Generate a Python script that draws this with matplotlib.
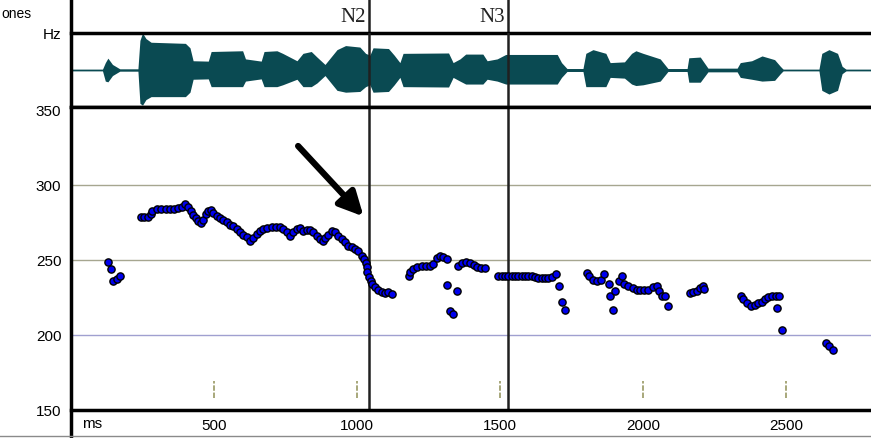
import matplotlib.pyplot as plt
from matplotlib.lines import Line2D

# pitch track (ms, Hz)
pitch_ms = [130, 139, 148, 160, 171,
            245, 256, 268, 280, 284, 300, 315, 331, 346, 361, 373, 387, 399, 408, 420,
            428, 436, 445, 455, 463, 471, 480, 490, 498, 509, 521, 533, 544, 556, 568,
            579, 591, 603, 614, 626, 638, 649,
            661, 673, 687, 702, 717, 731, 742, 754, 766, 777, 789, 801, 812, 824, 836,
            847, 859, 871, 880, 888, 900, 911, 923, 935, 946, 958, 970, 981, 993, 1005,
            1016, 1024, 1031, 1034, 1036, 1043, 1048, 1054, 1063, 1075, 1086, 1098, 1110, 1121,
            1180, 1185, 1197, 1211, 1226, 1241, 1255, 1267, 1279, 1290, 1302, 1314,
            1314, 1325, 1337, 1349,
            1354, 1366, 1381, 1395, 1409, 1421, 1432, 1448,
            1494, 1506, 1517, 1529, 1541, 1552, 1564, 1576, 1587, 1599, 1611, 1622, 1634,
            1646, 1657, 1669, 1681, 1696, 1707, 1716, 1727,
            1803, 1812, 1824, 1838, 1852, 1864, 1880, 1885, 1896, 1903, 1917, 1925, 1934,
            1949, 1964, 1978, 1990, 2003, 2019, 2036, 2050, 2057, 2065, 2077, 2088,
            2164, 2176, 2188, 2199, 2209, 2213,
            2342, 2351, 2362, 2376, 2392, 2403, 2415, 2427, 2438, 2450, 2465, 2477, 2467, 2486,
            2640, 2651, 2665]
pitch_hz = [248.5, 244, 236, 237, 239.5,
            278.9, 278.4, 278.9, 280.7, 282.4, 284, 284, 284, 284, 284, 284.7, 285.6, 287.3, 285.1, 282.9,
            280.2, 278, 275.8, 274.9, 276.7, 280.7, 282.9, 283.3, 281.1, 279.6, 278, 276.7, 275.1, 273.5, 272.9,
            270.7, 268.4, 266.9, 265.1, 262.4, 264.7, 267.3,
            269.5, 270.7, 271.3, 271.8, 271.8, 271.8, 270.7, 268.4, 266.2, 268.4, 270.7, 271.3, 269.5, 269.9, 269.9,
            268.4, 266.2, 264, 262.4, 264.7, 266.9, 269.1, 268.4, 266.2, 264, 261.8, 259.6, 258.4, 257.3, 255.8,
            252.9, 250.7, 247.8, 245.1, 241.8, 238.4, 236.2, 234, 231.8, 230, 228.4, 227.8, 228.4, 227.3,
            239.6, 242.2, 244, 245.6, 245.8, 245.8, 245.8, 247.3, 251.1, 252.4, 251.8, 250.7,
            233.3, 216.2, 214, 229.6,
            245.8, 248, 248.4, 248, 246.7, 245.1, 244.4, 244.4,
            239.6, 239.6, 239.6, 239.6, 239.6, 239.6, 239.6, 239.6, 239.6, 239.6, 239.6, 238.4, 237.8,
            237.8, 237.8, 237.8, 238.4, 240.7, 232.9, 222.2, 216.9,
            241.3, 239.1, 236.9, 236.2, 236.9, 240.7, 234.2, 225.8, 216.9, 229.3, 236, 239.6, 234,
            232.4, 231.1, 230.2, 230.2, 230.2, 230.2, 231.8, 232.9, 229.6, 226.2, 225.8, 219.1,
            228, 228.4, 229.6, 231.1, 232.9, 230.7,
            225.8, 224, 221.3, 219.1, 220, 221.3, 222.2, 224, 225.1, 225.8, 225.8, 225.8, 217.8, 203.3,
            194.7, 192.9, 189.8]

# waveform envelope (ms, relative amplitude)
wave_ms = [0, 110, 120, 129, 145, 171, 234, 241, 250, 262, 280, 400, 416, 427, 480, 490, 600, 610,
           665, 675, 720, 740, 790, 811, 840, 860, 888, 930, 960, 1010, 1030, 1045, 1056, 1110,
           1130, 1150, 1161, 1320, 1336, 1360, 1380, 1440, 1455, 1490, 1520, 1700, 1715, 1734,
           1790, 1800, 1825, 1870, 1885, 1935, 1960, 1975, 2000, 2060, 2087, 2154, 2160, 2200,
           2227, 2329, 2340, 2380, 2416, 2460, 2480, 2490, 2615, 2625, 2650, 2680, 2696, 2710, 2797]
wave_up = [0.02, 0.02, 0.2, 0.32, 0.15, 0.03, 0.03, 0.8, 1.0, 0.85, 0.75, 0.72, 0.6, 0.25, 0.24, 0.5,
           0.52, 0.3, 0.24, 0.5, 0.52, 0.45, 0.25, 0.45, 0.5, 0.35, 0.15, 0.55, 0.66, 0.62, 0.45, 0.4,
           0.6, 0.58, 0.4, 0.2, 0.45, 0.46, 0.2, 0.3, 0.43, 0.43, 0.25, 0.3, 0.42, 0.42, 0.2, 0.04,
           0.04, 0.45, 0.55, 0.45, 0.2, 0.22, 0.45, 0.52, 0.45, 0.3, 0.04, 0.04, 0.33, 0.35,
           0.05, 0.05, 0.2, 0.25, 0.38, 0.28, 0.1, 0.02, 0.02, 0.45, 0.55, 0.45, 0.1, 0.02, 0.02]
wave_lo = [0.02, 0.02, 0.3, 0.32, 0.15, 0.03, 0.03, 0.9, 0.95, 0.8, 0.72, 0.72, 0.6, 0.25, 0.24, 0.45,
           0.45, 0.3, 0.24, 0.45, 0.45, 0.4, 0.25, 0.45, 0.45, 0.35, 0.15, 0.55, 0.6, 0.58, 0.45, 0.4,
           0.6, 0.58, 0.4, 0.2, 0.45, 0.46, 0.2, 0.3, 0.38, 0.38, 0.25, 0.3, 0.38, 0.38, 0.2, 0.04,
           0.04, 0.45, 0.45, 0.45, 0.2, 0.22, 0.38, 0.42, 0.4, 0.3, 0.04, 0.04, 0.33, 0.33,
           0.05, 0.05, 0.2, 0.25, 0.3, 0.28, 0.1, 0.02, 0.02, 0.55, 0.65, 0.55, 0.1, 0.02, 0.02]

marks_ms = [1043, 1529]
marks_lbl = ["N2", "N3"]
yticks = [150, 200, 250, 300, 350]
xticks = [500, 1000, 1500, 2000, 2500]
arrow_tail = (794, 326)
arrow_tip = (1023, 279)

XMAX = 2797
W, H = 871, 439
fig = plt.figure(figsize=(W / 100, H / 100), dpi=100)
fig.patch.set_facecolor("white")
plt.rcParams["font.family"] = ["Liberation Sans", "DejaVu Sans"]


def box(x0, y0, x1, y1):
    return [x0 / W, 1 - y1 / H, (x1 - x0) / W, (y1 - y0) / H]


ax_top = fig.add_axes(box(71, 0, 871, 34))
ax_wave = fig.add_axes(box(71, 34, 871, 108))
ax = fig.add_axes(box(71, 108, 871, 411))

for a in (ax_top, ax_wave, ax):
    a.set_xlim(0, XMAX)
    for s in a.spines.values():
        s.set_visible(False)
    a.set_xticks([])
    a.set_yticks([])

# top strip with labels
ax_top.set_ylim(0, 1)
for m, lbl in zip(marks_ms, marks_lbl):
    ax_top.axvline(m, color="#202020", lw=1.8)
    ax_top.text(m - 13, 0.5, lbl, ha="right", va="center", fontsize=15,
                family="Liberation Serif", color="#222222")

# waveform
teal = "#0a4a52"
ax_wave.set_ylim(-1, 1)
ax_wave.fill_between(wave_ms, [-v for v in wave_lo], wave_up, color=teal, lw=0)
ax_wave.axhline(0, color=teal, lw=1)
for m in marks_ms:
    ax_wave.axvline(m, color="#202020", lw=1.8, zorder=3)
for s in ("top", "bottom"):
    ax_wave.spines[s].set_visible(True)
    ax_wave.spines[s].set_linewidth(2.5)
ax_wave.set_yticks([1])
ax_wave.set_yticklabels(["Hz"], fontsize=11)
ax_wave.tick_params(axis="y", length=0, pad=7)

# pitch panel
ax.set_ylim(150, 352)
ax.axhline(300, color="#a6a690", lw=1)
ax.axhline(250, color="#a6a690", lw=1)
ax.axhline(200, color="#a0a0d0", lw=1)
ax.vlines(xticks, 158, 169, colors="#a0a070", lw=1.3, linestyles=(0, (3, 1)))
for m in marks_ms:
    ax.axvline(m, color="#202020", lw=1.8, zorder=2)
ax.plot(pitch_ms, pitch_hz, "o", ms=5.2, mfc="#0000ee", mec="black", mew=1, zorder=4)
ax.annotate("", xy=arrow_tip, xytext=arrow_tail,
            arrowprops=dict(arrowstyle="-|>", lw=4.5, color="black", mutation_scale=36,
                            shrinkA=0, shrinkB=0), zorder=5)
for s in ("top", "bottom"):
    ax.spines[s].set_visible(True)
    ax.spines[s].set_linewidth(2.5)
ax.set_yticks(yticks)
ax.set_yticklabels([str(v) for v in yticks], fontsize=11)
ax.set_xticks(xticks)
ax.set_xticklabels([str(v) for v in xticks], fontsize=11)
ax.tick_params(length=0, pad=7)
ax.tick_params(axis="x", pad=6)
ax.text(38, -0.043, "ms", transform=ax.get_xaxis_transform(), ha="left", va="center", fontsize=11)

# frame lines
fig.add_artist(Line2D([71 / W, 71 / W], [0, 1], color="black", lw=2.5))
fig.add_artist(Line2D([0, 1], [2 / H, 2 / H], color="#8a8a8a", lw=1))
fig.text(1 / W, 1 - 18 / H, "ones", ha="left", va="baseline", fontsize=10)

fig.savefig("out.png", dpi=100)
